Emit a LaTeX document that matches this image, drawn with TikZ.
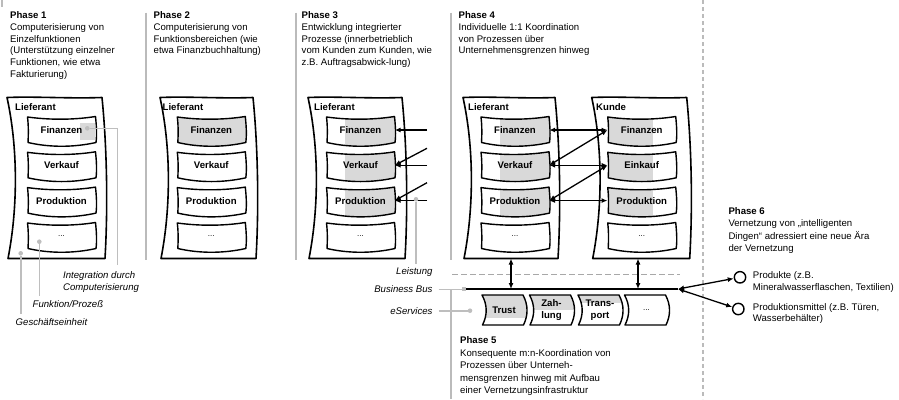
\documentclass[tikz,border=0pt]{standalone}
\usepackage{fontspec}
\setmainfont{Liberation Sans}
\usetikzlibrary{arrows.meta}

\definecolor{boxgray}{HTML}{D9D9D9}
\definecolor{pointergray}{HTML}{BEBEBE}
\definecolor{rulegray}{HTML}{BBBBBB}

% lines stacked from the baseline of the first one
\newcommand\stack[1]{\begin{tabular}[t]{@{}l@{}}#1\end{tabular}}

% process box: sagging top and bottom edges, centred on the origin
\def\tapeshape{(-34,-13) .. controls (-12,-10) and (12,-10) .. (34,-13.5) .. controls (35,-4) and (35.5,5) .. (34.5,12.5) .. controls (12,17.5) and (-12,17.5) .. (-33.5,12.5) .. controls (-33,4) and (-33,-5) .. cycle}
% service box: both side edges bowed to the right
\def\chevshape{(-22,-15) -- (19,-15) .. controls (24.3,-5) and (24.3,5) .. (19.5,15) -- (-21.5,15) .. controls (-16.5,5) and (-16.5,-5) .. cycle}

% #1 name, #2 cx, #3 cy, #4 label
\newcommand\procbox[4]{%
  \begin{scope}[shift={(#2,#3)}]\draw[boxline] \tapeshape;\end{scope}
  \node[boxlabel] (#1) at (#2,#3) {#4};}
% #1 cx, #2 cy, #3 #4 shaded band (local x)
\newcommand\procshade[4]{%
  \begin{scope}[shift={(#1,#2)}]\clip \tapeshape;\fill[boxgray] (#3,-20) rectangle (#4,20);\end{scope}}
% #1 left x, #2 width
\newcommand\unitframe[2]{%
  \begin{scope}[shift={(#1,97.5)}]
    \draw[frameline] (0,0) .. controls ({0.3*#2},-1.2) and ({0.65*#2},1.2) .. (#2,0)
      .. controls ({#2+5},50) and ({#2+6},110) .. ({#2+3},161) -- (1,161)
      .. controls (11,110) and (11,50) .. cycle;
  \end{scope}}
% #1 name, #2 cx, #3 label, #4 lower edge of shading (local y)
\newcommand\eservice[4]{%
  \begin{scope}[shift={(#2,310)}]
    \begin{scope}\clip \chevshape;\fill[boxgray] (-30,-16) rectangle (30,#4);\end{scope}
    \draw[boxline] \chevshape;
  \end{scope}
  \node[servicelabel] (#1) at (#2,310) {#3};}

\begin{document}
\begin{tikzpicture}[x=1pt,y=-1pt,
  frameline/.style={line width=1.6pt,line join=round},
  boxline/.style={line width=1.4pt,line join=round},
  boxlabel/.style={font=\bfseries\fontsize{9.6}{12}\selectfont,inner sep=0pt,minimum width=68pt,minimum height=26pt},
  dotslabel/.style={font=\fontsize{8}{10}\selectfont,inner sep=0pt,minimum width=68pt,minimum height=26pt},
  servicelabel/.style={font=\bfseries\fontsize{9.6}{12.4}\selectfont,inner sep=0pt,align=center},
  unitlabel/.style={font=\bfseries\fontsize{9.6}{12}\selectfont,inner sep=0pt,anchor=base west},
  phasetext/.style={font=\fontsize{9.6}{12.4}\selectfont,inner sep=0pt,anchor=base west},
  headtext/.style={font=\fontsize{9.6}{11.8}\selectfont,inner sep=0pt,anchor=base west},
  note/.style={font=\itshape\fontsize{9.6}{11.7}\selectfont,inner sep=0pt},
  divider/.style={draw=rulegray,line width=1.6pt},
  pointer/.style={draw=pointergray,line width=1.6pt},
  pdot/.style={circle,fill=pointergray,inner sep=0pt,minimum size=4.6pt},
  psq/.style={rectangle,fill=pointergray,inner sep=0pt,minimum size=4pt},
  arr/.style={-{Latex[length=6pt,width=5pt]},line width=1.3pt},
  dblarr/.style={{Latex[length=6pt,width=5pt]}-{Latex[length=6pt,width=5pt]},line width=1.3pt},
  thing/.style={circle,draw,fill=white,line width=1.4pt,minimum size=11.4pt,inner sep=0pt}]
\useasboundingbox (0,0) rectangle (899,399);

% phase dividers
\draw[divider] (2,0) -- (2,7);
\draw[divider] (146,12.7) -- (146,260);
\draw[divider] (296,12.7) -- (296,260);
\draw[divider] (451,12.7) -- (451,260);
\draw[divider] (451,290) -- (451,399);
\draw[draw=rulegray,line width=1.4pt,dash pattern=on 4pt off 3pt] (703,0) -- (703,399);
\draw[draw=rulegray!90!black,line width=1pt,dash pattern=on 6pt off 3pt] (452,274.5) -- (680,274.5);

% phase headings
\node[headtext] (ph1) at (10,18.5) {\stack{\textbf{Phase 1}\\Computerisierung von\\Einzelfunktionen\\(Unterstützung einzelner\\Funktionen, wie etwa\\Fakturierung)}};
\node[headtext] (ph2) at (153.5,18.5) {\stack{\textbf{Phase 2}\\Computerisierung von\\Funktionsbereichen (wie\\etwa Finanzbuchhaltung)}};
\node[headtext] (ph3) at (301.5,18.5) {\stack{\textbf{Phase 3}\\Entwicklung integrierter\\Prozesse (innerbetrieblich\\vom Kunden zum Kunden, wie\\z.B. Auftragsabwick-lung)}};
\node[headtext] (ph4) at (458.5,18.5) {\stack{\textbf{Phase 4}\\Individuelle 1:1 Koordination\\von Prozessen über\\Unternehmensgrenzen hinweg}};
\node[phasetext,font=\fontsize{9.6}{12.6}\selectfont] (ph5) at (460,343.5) {\stack{\textbf{Phase 5}\\Konsequente m:n-Koordination von\\Prozessen über Unterneh-\\mensgrenzen hinweg mit Aufbau\\einer Vernetzungsinfrastruktur}};
\node[phasetext,font=\fontsize{9.6}{12.5}\selectfont] (ph6) at (728.3,214) {\stack{\textbf{Phase 6}\\Vernetzung von „intelligenten\\Dingen“ adressiert eine neue Ära\\der Vernetzung}};

% business units
\unitframe{7}{95}
\unitframe{160}{93}
\unitframe{308}{94}
\unitframe{463}{92}
\unitframe{591.7}{95}
\node[unitlabel] (u1) at (15,110.2) {Lieferant};
\node[unitlabel] (u2) at (162.5,110.2) {Lieferant};
\node[unitlabel] (u3) at (314,110.2) {Lieferant};
\node[unitlabel] (u4) at (468,110.2) {Lieferant};
\node[unitlabel] (u5) at (596,110.2) {Kunde};

% phase 1
\fill[boxgray] (80,123) rectangle (95,140);
\procbox{p1F}{61.5}{130}{Finanzen}
\procbox{p1V}{61.5}{165.3}{Verkauf}
\procbox{p1P}{61.5}{200.6}{Produktion}
\procbox{p1X}{61.5}{236}{}
\node[dotslabel] (p1Xt) at (61.5,236) {...};

% phase 2
\procshade{211.3}{130}{-40}{40}
\procbox{p2F}{211.3}{130}{Finanzen}
\procbox{p2V}{211.3}{165.3}{Verkauf}
\procbox{p2P}{211.3}{200.6}{Produktion}
\procbox{p2X}{211.3}{236}{}
\node[dotslabel] (p2Xt) at (211.3,236) {...};

% phase 3
\procshade{360.5}{130}{-15.5}{40}
\procshade{360.5}{165.3}{-15.5}{40}
\procshade{360.5}{200.6}{-15.5}{40}
\procbox{p3F}{360.5}{130}{Finanzen}
\procbox{p3V}{360.5}{165.3}{Verkauf}
\procbox{p3P}{360.5}{200.6}{Produktion}
\procbox{p3X}{360.5}{236}{}
\node[dotslabel] (p3Xt) at (360.5,236) {...};

% phase 4
\procshade{515}{130}{-15}{40}
\procshade{515}{165.3}{-15}{40}
\procshade{515}{200.6}{-15}{40}
\procbox{p4LF}{515}{130}{Finanzen}
\procbox{p4LV}{515}{165.3}{Verkauf}
\procbox{p4LP}{515}{200.6}{Produktion}
\procbox{p4LX}{515}{236}{}
\node[dotslabel] (p4LXt) at (515,236) {...};
\procshade{641.7}{130}{-40}{11.3}
\procshade{641.7}{165.3}{-40}{11.3}
\procshade{641.7}{200.6}{-40}{11.3}
\procbox{p4KF}{641.7}{130}{Finanzen}
\procbox{p4KE}{641.7}{165.3}{Einkauf}
\procbox{p4KP}{641.7}{200.6}{Produktion}
\procbox{p4KX}{641.7}{236}{}
\node[dotslabel] (p4KXt) at (641.7,236) {...};

% phase 3 incoming process links
\coordinate (s1) at (427,130);
\coordinate (s2) at (427,148.3);
\coordinate (s3) at (427,165.3);
\coordinate (s4) at (427,182.7);
\coordinate (s5) at (427,200.6);
\draw[arr] (s1) -- (p3F.east);
\draw[arr] (s2) -- (p3V.east);
\draw[arr] (s3) -- (p3V.east);
\draw[arr] (s4) -- (p3P.east);
\draw[arr] (s5) -- (p3P.east);

% phase 4 coordination links
\draw[dblarr] (p4LF.east) -- (p4KF.west);
\draw[dblarr] (p4LV.east) -- (p4KF.west);
\draw[dblarr] (p4LV.east) -- (p4KE.west);
\draw[dblarr] (p4LP.east) -- (p4KE.west);
\draw[dblarr] (p4LP.east) -- (p4KP.west);

% business bus
\coordinate (lbot) at (511,258.5);
\coordinate (kbot) at (638,258.5);
\coordinate (busA) at (511,289);
\coordinate (busB) at (638,289);
\coordinate (busL) at (465,289);
\coordinate (busR) at (678,289);
\draw[line width=1.5pt] (busL) -- (busR);
\draw[dblarr] (lbot) -- (busA);
\draw[dblarr] (kbot) -- (busB);

% eServices
\eservice{sTrust}{504}{Trust}{8}
\eservice{sZahl}{551.5}{Zah-\\lung}{0}
\eservice{sTrans}{600}{Trans-\\port}{-7}
\eservice{sMore}{646.5}{\mdseries\fontsize{8}{10}\selectfont ...}{-16}

% phase 6 things
\node[thing] (c1) at (740,277.3) {};
\node[thing] (c2) at (738.3,309) {};
\draw[dblarr] (busR) -- (c1);
\draw[dblarr] (busR) -- (c2);
\node[phasetext,font=\fontsize{9.6}{11.5}\selectfont] (t1) at (752.7,278.5) {\stack{Produkte (z.B.\\Mineralwasserflaschen, Textilien)}};
\node[phasetext,font=\fontsize{9.6}{11}\selectfont] (t2) at (752.7,310) {\stack{Produktionsmittel (z.B. Türen,\\Wasserbehälter)}};

% labels of the layers
\node[note,anchor=base east] (leist) at (432.7,274) {Leistung};
\node[note,anchor=base east] (bbus) at (432.7,292.7) {Business Bus};
\node[note,anchor=base east] (eserv) at (432.7,314) {eServices};
\node[pdot] (dLeist) at (416,199.3) {};
\draw[pointer] (dLeist) -- ([yshift=3pt]dLeist |- leist.north);
\node[psq] (dBus) at (464,289.3) {};
\draw[pointer] ([xshift=6pt]bbus.east |- dBus) -- (dBus);
\node[pdot] (dServ) at (470,310.7) {};
\draw[pointer] ([xshift=6pt]eserv.east |- dServ) -- (dServ);

% phase 1 legend
\node[pdot] (dFin) at (87.3,128.3) {};
\node[note,anchor=base west] (integ) at (63,278.5) {\stack{Integration durch\\Computerisierung}};
\coordinate (integTop) at (117.3,265);
\draw[pointer] (dFin) -| (integTop);
\node[pdot] (dFunk) at (39.3,241.7) {};
\node[note,anchor=base west] (funk) at (32.5,307.5) {Funktion/Prozeß};
\draw[pointer] (dFunk) -- ([yshift=4pt]dFunk |- funk.north);
\node[pdot] (dGe) at (20.7,253.3) {};
\node[note,anchor=base west] (gesch) at (15.5,325.5) {Geschäftseinheit};
\draw[pointer] (dGe) -- ([yshift=4pt]dGe |- gesch.north);
\end{tikzpicture}
\end{document}
